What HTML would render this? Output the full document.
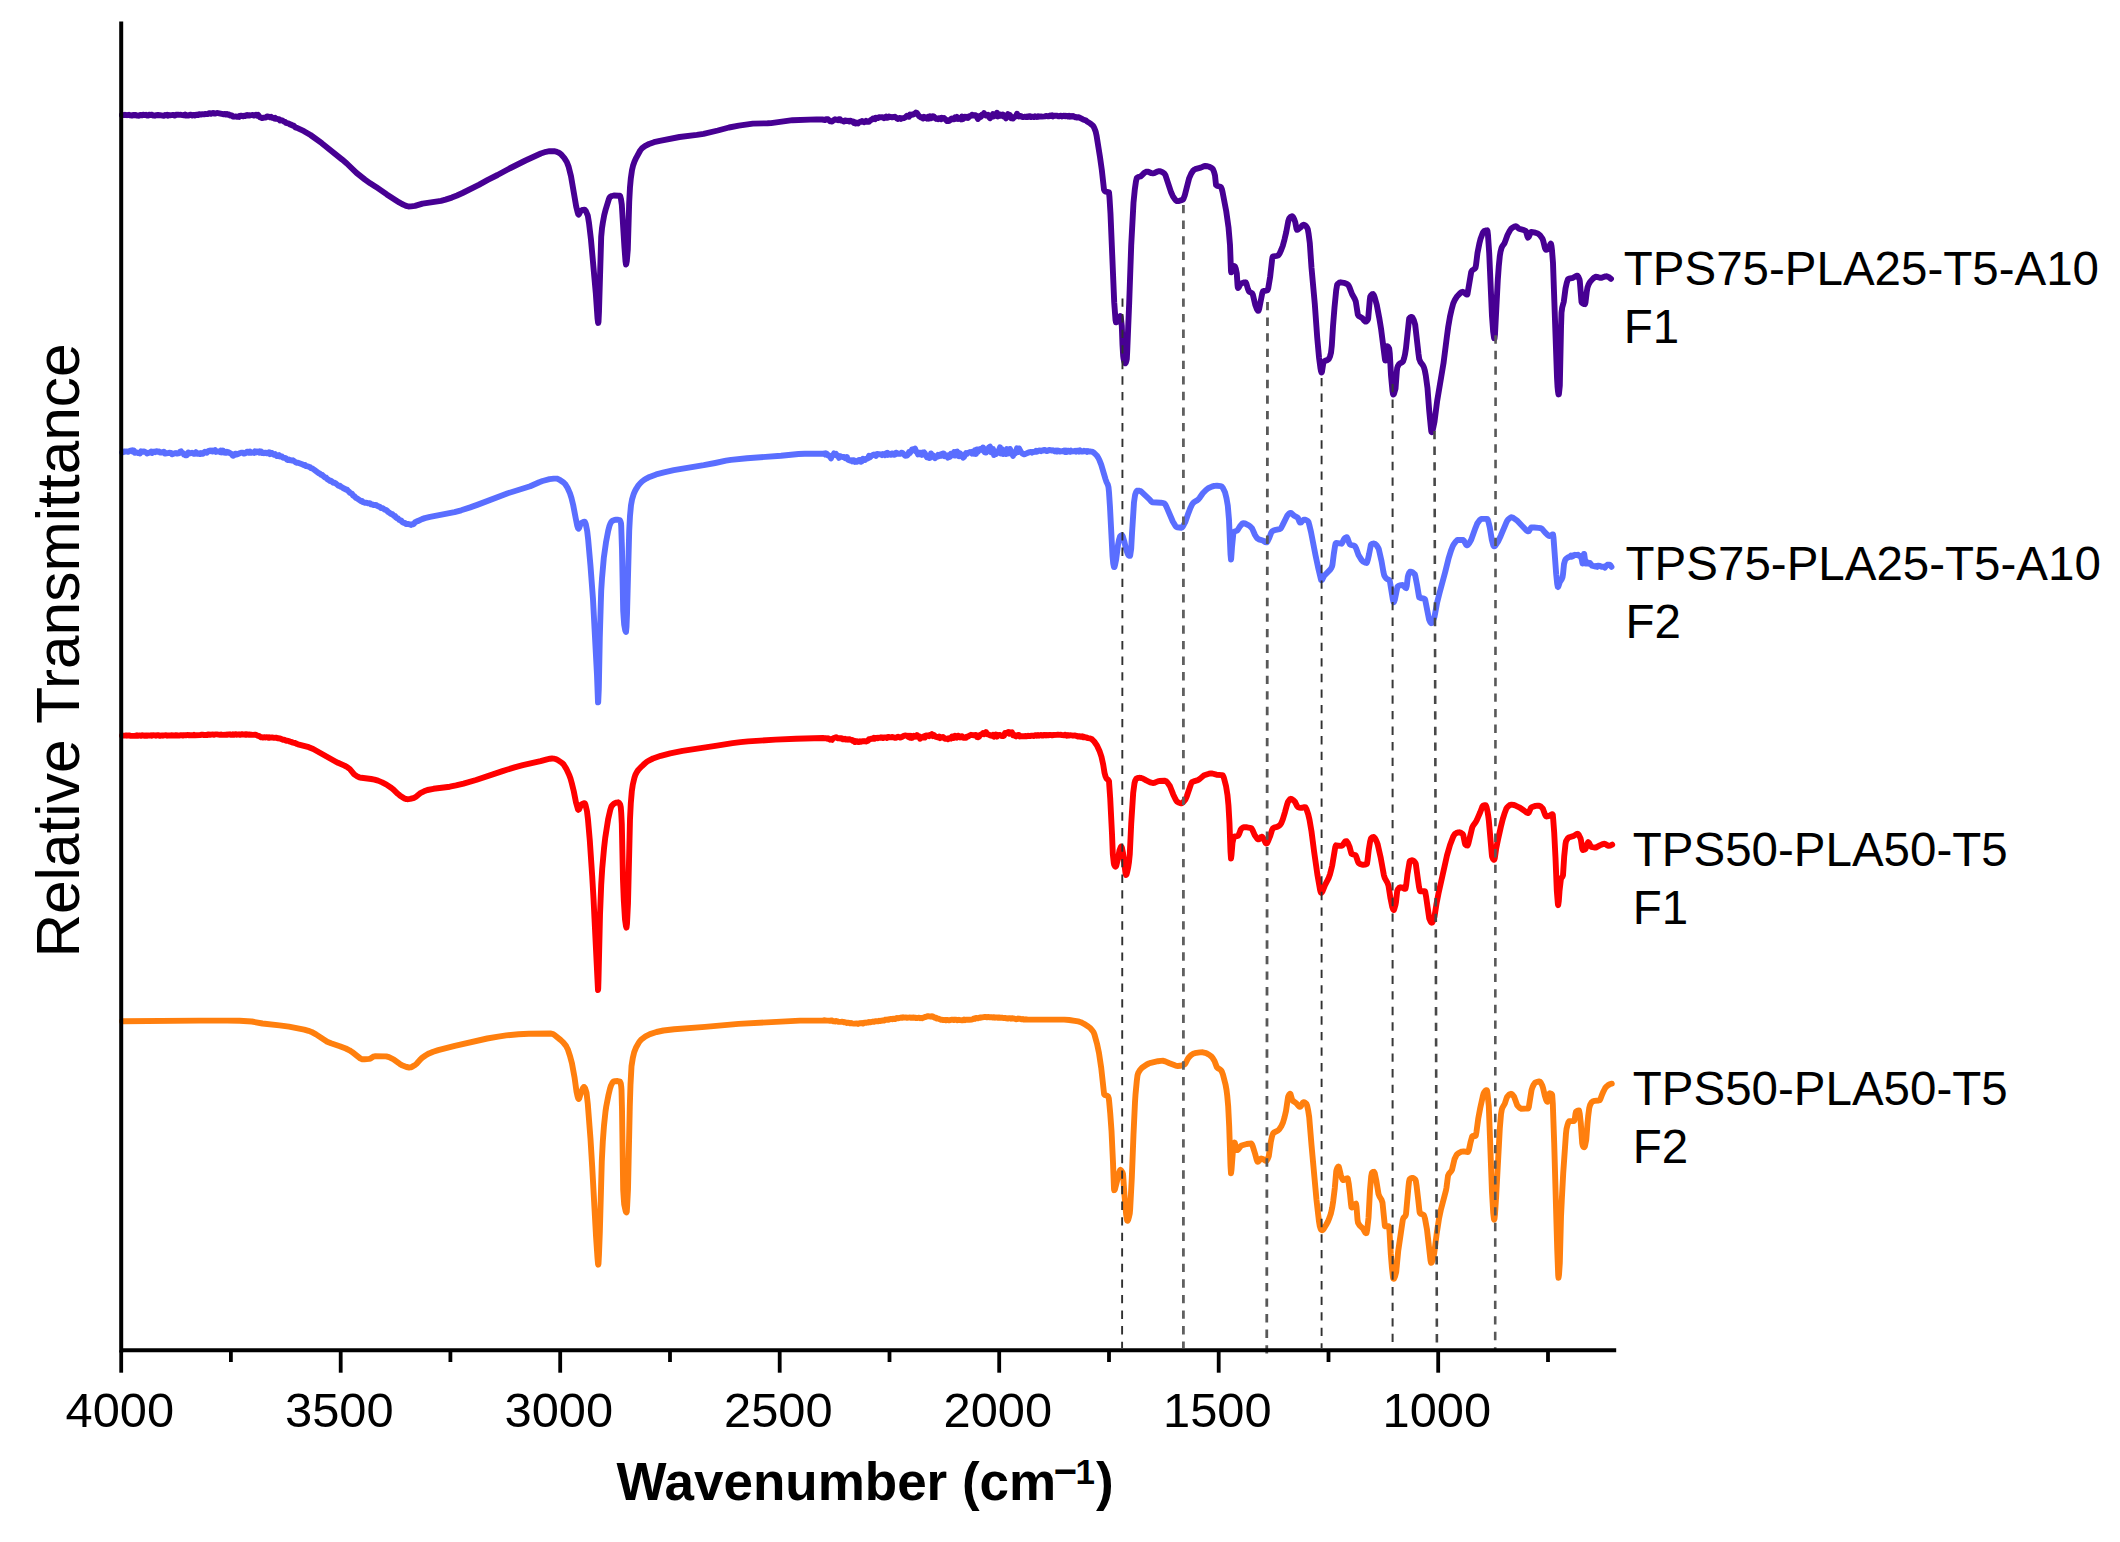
<!DOCTYPE html>
<html lang="en"><head><meta charset="utf-8"><title>FTIR spectra</title>
<style>
html,body{margin:0;padding:0;background:#fff;}
body{width:2120px;height:1542px;overflow:hidden;}
svg{display:block;}
text{font-family:"Liberation Sans", sans-serif;fill:#000;}
.tk{font-size:48.8px;text-anchor:middle;}
.lb{font-size:47.5px;}
.ax{stroke:#000;stroke-width:4.0;fill:none;stroke-linecap:butt;}
.cv{fill:none;stroke-width:5.9;stroke-linejoin:round;stroke-linecap:round;}
</style></head><body>
<svg width="2120" height="1542" viewBox="0 0 2120 1542">
<rect width="2120" height="1542" fill="#fff"/>
<path class="cv" stroke="#470093" d="M122.0 115.0 L124.0 115.1 L125.0 114.8 L127.0 115.2 L129.0 114.8 L130.0 115.3 L131.0 115.3 L132.0 115.6 L133.0 114.9 L134.0 115.3 L135.0 115.0 L136.0 115.0 L137.0 115.6 L139.0 115.7 L140.0 115.0 L141.0 115.0 L142.0 115.4 L143.0 114.7 L145.0 115.1 L146.0 114.8 L147.0 115.5 L148.0 115.6 L149.0 114.8 L151.0 115.0 L152.0 114.7 L153.0 115.6 L154.0 115.4 L155.0 115.7 L156.0 115.2 L158.0 115.0 L159.0 115.4 L160.0 115.1 L164.0 115.8 L165.0 114.9 L166.0 115.3 L167.0 114.7 L168.0 115.7 L169.0 115.0 L170.0 115.3 L173.0 114.9 L175.0 115.6 L176.0 114.7 L178.0 114.7 L179.0 114.9 L181.0 114.8 L184.0 115.3 L185.0 114.6 L186.0 115.6 L187.0 115.3 L188.0 115.6 L189.0 115.3 L190.0 114.7 L191.0 114.7 L192.0 115.5 L193.0 115.0 L194.0 115.0 L195.0 115.4 L196.0 114.6 L197.0 114.6 L198.0 115.1 L199.0 114.3 L200.0 114.3 L201.0 114.6 L202.0 114.1 L204.0 114.4 L205.0 114.0 L208.0 114.1 L209.0 113.2 L210.0 113.3 L211.0 113.8 L213.0 112.9 L214.0 113.5 L215.0 113.6 L217.0 113.0 L218.0 113.1 L223.0 114.2 L225.0 114.0 L226.0 114.5 L227.0 113.9 L228.0 114.8 L229.0 114.5 L230.0 115.5 L231.0 115.2 L232.0 115.6 L233.0 116.5 L234.0 116.7 L236.0 116.4 L237.0 116.8 L238.0 116.4 L239.0 116.9 L240.0 115.8 L241.0 115.6 L243.0 116.3 L244.0 115.6 L245.0 116.0 L246.0 115.3 L247.0 115.0 L248.0 115.5 L249.0 115.1 L250.0 115.5 L252.0 115.0 L253.0 115.0 L254.0 115.6 L256.0 114.7 L257.0 115.6 L258.0 114.8 L259.0 116.2 L260.0 117.3 L261.0 117.4 L262.0 118.1 L264.0 117.6 L265.0 117.6 L266.0 117.3 L267.0 116.4 L268.0 116.7 L269.0 116.6 L270.0 117.3 L271.0 116.8 L272.0 117.7 L273.0 117.7 L274.0 118.4 L275.0 117.8 L276.0 118.9 L277.0 118.7 L278.0 119.3 L279.0 119.1 L280.0 120.5 L281.0 120.1 L282.0 120.3 L284.0 121.6 L285.0 121.9 L286.0 122.9 L289.0 123.7 L290.0 124.6 L291.0 124.4 L292.0 125.3 L293.0 125.5 L294.0 126.0 L295.2 127.3 L296.0 127.7 L297.0 127.9 L304.0 131.2 L310.5 135.0 L321.8 143.2 L342.2 159.6 L346.8 163.5 L356.5 172.9 L365.0 179.6 L370.2 183.3 L376.0 186.9 L386.8 194.4 L399.2 202.4 L402.0 204.0 L405.5 205.6 L407.2 206.2 L408.5 206.5 L411.2 206.4 L415.0 205.9 L422.5 203.6 L441.0 200.8 L445.5 199.6 L451.8 197.6 L457.0 195.5 L462.5 193.0 L478.8 184.8 L487.8 179.8 L497.5 175.0 L509.5 168.5 L525.5 160.5 L540.8 153.5 L546.0 151.8 L549.5 151.2 L554.2 151.2 L556.0 151.6 L558.2 152.4 L559.5 153.1 L561.0 154.3 L564.2 157.9 L566.8 162.0 L568.5 166.3 L571.0 176.2 L576.2 206.5 L577.5 211.9 L578.2 214.2 L578.5 214.6 L579.0 214.3 L580.5 211.3 L581.0 210.7 L583.0 209.8 L584.5 209.6 L585.2 210.2 L586.0 211.3 L587.8 215.6 L589.0 223.0 L591.0 239.9 L595.8 293.2 L597.5 318.1 L598.0 322.2 L598.2 323.0 L598.5 321.8 L599.0 311.0 L601.2 236.7 L602.0 228.3 L602.8 223.0 L604.2 215.3 L605.8 209.1 L608.8 199.4 L609.5 197.6 L610.0 196.9 L611.8 196.0 L613.8 195.5 L618.8 195.7 L620.0 195.8 L620.2 196.1 L621.0 199.3 L621.8 204.7 L624.5 248.0 L625.5 261.3 L626.0 264.5 L626.2 264.1 L626.8 261.2 L627.8 249.5 L629.2 202.2 L630.0 187.2 L630.8 178.5 L632.0 170.1 L633.0 165.8 L634.5 161.5 L636.2 157.8 L640.2 150.5 L641.8 148.5 L643.0 147.4 L645.8 145.6 L649.0 144.0 L654.0 142.2 L659.8 140.8 L679.5 137.0 L696.8 134.9 L703.5 133.8 L717.8 130.5 L729.0 127.5 L738.8 125.6 L752.8 123.6 L767.5 123.3 L771.0 123.1 L792.5 120.2 L816.5 119.4 L822.2 119.5 L825.0 120.0 L826.0 119.3 L827.0 119.4 L828.0 119.2 L830.0 121.3 L831.0 121.1 L832.0 121.6 L833.8 120.0 L835.0 119.3 L838.0 120.2 L839.0 119.3 L840.0 119.2 L841.0 120.6 L842.0 120.6 L844.0 121.5 L845.0 120.4 L847.0 121.1 L848.0 120.7 L849.0 121.5 L850.0 120.6 L851.0 120.8 L852.0 121.5 L853.0 121.5 L854.0 123.0 L855.0 122.3 L856.0 123.5 L857.0 122.7 L858.0 123.4 L859.0 122.3 L860.0 121.8 L861.0 121.9 L862.0 121.1 L863.0 121.5 L864.0 122.2 L865.0 121.8 L866.0 120.9 L867.0 121.7 L869.0 121.7 L870.0 120.6 L871.0 119.9 L872.0 119.6 L873.0 118.5 L874.0 118.5 L875.0 119.2 L876.0 117.7 L877.0 118.2 L878.0 118.0 L879.0 117.1 L880.0 117.4 L882.0 117.2 L883.0 117.4 L884.0 118.2 L886.0 116.7 L887.0 117.8 L888.0 117.6 L889.0 116.6 L890.0 117.0 L891.0 116.9 L892.0 117.4 L893.0 117.0 L894.0 117.1 L895.0 116.7 L896.0 117.5 L897.0 118.6 L898.0 119.0 L899.0 118.2 L900.0 118.0 L901.0 118.9 L902.0 118.2 L904.0 118.0 L905.0 117.6 L907.0 115.8 L907.8 116.0 L909.0 116.7 L910.0 114.5 L911.0 115.2 L912.0 114.4 L913.0 114.6 L915.0 113.6 L916.0 112.5 L917.0 113.1 L919.0 116.1 L920.0 116.7 L921.0 117.6 L922.0 117.2 L923.0 118.4 L924.0 116.8 L925.0 118.1 L926.0 117.7 L927.0 118.6 L928.0 116.8 L929.0 118.7 L930.0 116.2 L931.0 118.2 L932.0 117.8 L933.0 116.2 L934.0 116.7 L935.0 118.0 L936.0 118.9 L937.0 118.4 L938.0 119.2 L939.0 118.2 L940.0 118.1 L941.0 119.2 L942.0 117.8 L943.0 118.4 L944.0 117.9 L946.0 120.1 L947.0 121.0 L948.0 120.3 L949.0 120.9 L950.0 120.3 L951.0 118.9 L952.0 118.4 L953.0 119.2 L954.0 119.2 L955.0 117.4 L956.0 118.5 L957.0 116.9 L958.0 118.9 L959.0 118.6 L960.0 118.0 L961.0 119.3 L962.0 116.6 L963.0 119.1 L964.0 116.9 L965.0 116.8 L966.0 117.7 L967.0 116.9 L968.0 117.9 L970.0 115.9 L971.0 115.8 L972.0 114.8 L972.8 114.9 L974.0 115.6 L975.0 115.1 L976.0 115.5 L978.0 119.0 L979.0 117.0 L980.0 115.9 L981.0 116.8 L982.0 114.7 L983.0 114.5 L984.0 113.2 L985.0 114.6 L986.0 115.5 L987.0 115.7 L988.0 114.8 L989.0 117.0 L990.0 118.2 L991.0 117.0 L992.0 116.9 L993.0 114.0 L994.0 116.4 L995.0 114.2 L996.0 115.2 L997.0 112.7 L998.0 116.5 L999.0 114.4 L1000.0 114.4 L1001.0 115.8 L1001.5 115.9 L1002.0 115.8 L1003.0 114.5 L1004.0 116.8 L1005.0 116.8 L1006.0 118.3 L1007.0 115.6 L1008.0 114.1 L1009.0 116.0 L1010.0 115.1 L1011.0 118.2 L1012.0 118.0 L1012.5 118.4 L1013.0 118.6 L1014.0 117.2 L1015.2 116.5 L1016.0 116.3 L1017.0 113.7 L1018.0 116.0 L1018.2 116.2 L1019.0 116.5 L1019.8 116.0 L1020.5 115.9 L1021.0 116.1 L1021.8 116.8 L1023.0 117.0 L1024.0 117.0 L1025.0 116.7 L1026.0 117.1 L1027.0 116.5 L1028.0 117.0 L1029.0 116.2 L1030.0 116.3 L1031.0 117.1 L1032.0 116.6 L1034.0 117.0 L1035.0 116.3 L1037.0 117.0 L1038.0 116.2 L1039.0 116.7 L1041.0 116.4 L1042.0 116.6 L1045.0 116.4 L1046.0 115.9 L1048.0 116.3 L1049.0 116.2 L1050.0 115.6 L1051.0 116.1 L1052.0 115.4 L1053.0 116.4 L1054.0 115.6 L1057.0 115.7 L1058.0 116.2 L1059.0 116.3 L1060.0 115.8 L1061.0 115.6 L1062.0 116.4 L1063.0 115.8 L1064.0 115.6 L1065.0 116.2 L1066.0 115.8 L1067.0 116.0 L1068.0 116.5 L1069.0 115.7 L1070.0 116.6 L1071.0 115.9 L1072.0 116.6 L1073.0 116.0 L1074.0 116.4 L1075.0 117.2 L1076.0 116.9 L1077.0 117.6 L1078.0 117.1 L1078.2 117.1 L1079.0 117.3 L1083.0 119.4 L1086.0 120.5 L1087.0 121.5 L1090.0 123.2 L1093.0 125.8 L1093.8 126.9 L1094.5 128.4 L1095.8 132.1 L1096.5 135.3 L1100.0 157.1 L1101.8 169.9 L1104.0 189.5 L1104.5 190.7 L1105.5 191.6 L1108.5 192.1 L1109.0 192.4 L1109.5 197.6 L1110.5 213.9 L1113.8 292.6 L1114.2 302.2 L1115.5 319.8 L1116.0 322.3 L1117.0 322.0 L1118.2 321.0 L1120.0 316.2 L1120.2 316.0 L1120.5 316.2 L1120.8 317.2 L1121.8 326.1 L1122.5 345.0 L1123.2 356.2 L1123.5 358.4 L1124.0 360.7 L1124.5 362.3 L1125.0 363.2 L1125.2 363.3 L1125.8 362.7 L1126.5 360.4 L1126.8 359.0 L1127.2 351.7 L1129.2 302.7 L1131.2 245.6 L1133.5 202.7 L1134.8 189.5 L1136.0 181.2 L1136.8 177.9 L1138.0 177.1 L1140.2 176.5 L1141.2 176.0 L1144.0 173.1 L1145.8 172.0 L1146.8 171.6 L1148.2 171.7 L1151.5 173.2 L1152.8 173.4 L1154.2 173.1 L1157.5 171.5 L1158.8 171.2 L1160.2 171.2 L1162.0 171.9 L1164.5 173.7 L1165.5 175.3 L1171.2 192.6 L1172.8 196.1 L1174.8 199.1 L1176.0 200.5 L1177.0 201.1 L1179.0 201.0 L1182.2 199.9 L1183.0 199.5 L1183.5 198.8 L1184.8 195.2 L1189.2 178.1 L1191.2 173.6 L1193.0 170.8 L1194.0 169.9 L1195.2 169.2 L1200.8 167.6 L1204.0 166.2 L1205.2 166.0 L1207.5 166.2 L1209.2 166.8 L1211.2 167.7 L1212.2 168.4 L1213.0 169.4 L1214.0 171.8 L1215.0 175.5 L1216.0 185.0 L1217.2 185.9 L1219.8 186.5 L1221.0 187.3 L1221.8 189.0 L1222.5 191.8 L1226.2 211.0 L1228.5 227.3 L1230.0 244.9 L1230.8 265.8 L1231.0 270.9 L1231.2 272.4 L1232.0 271.4 L1233.8 266.7 L1234.2 266.0 L1234.8 266.2 L1235.8 268.6 L1236.8 273.5 L1237.5 284.9 L1237.8 287.5 L1238.0 288.0 L1238.8 287.3 L1240.2 284.4 L1241.0 283.5 L1243.8 282.5 L1245.2 282.3 L1245.8 282.4 L1246.5 284.0 L1248.0 289.2 L1248.8 291.1 L1249.5 291.8 L1251.8 293.0 L1252.2 293.4 L1252.8 294.4 L1255.2 304.7 L1257.0 309.4 L1258.0 310.9 L1258.5 310.9 L1259.2 308.8 L1262.2 293.5 L1262.8 291.7 L1263.0 291.3 L1263.8 291.0 L1266.5 290.6 L1267.5 290.2 L1268.2 288.4 L1270.2 276.4 L1272.0 260.3 L1272.5 257.3 L1272.8 256.6 L1273.2 256.4 L1277.0 255.8 L1278.2 255.4 L1279.5 253.7 L1281.2 250.0 L1282.8 245.8 L1284.5 239.4 L1286.2 232.2 L1288.2 221.5 L1288.8 219.6 L1289.2 218.5 L1290.5 217.0 L1291.5 216.3 L1292.2 216.2 L1293.0 216.9 L1294.0 218.8 L1295.2 222.0 L1296.5 228.6 L1297.0 229.8 L1297.8 229.6 L1298.5 229.1 L1300.8 227.2 L1302.5 225.3 L1303.5 224.7 L1304.2 224.8 L1305.2 225.3 L1306.2 226.3 L1307.2 227.8 L1307.8 229.3 L1308.5 233.2 L1309.8 243.1 L1311.5 267.8 L1314.8 304.0 L1317.2 337.4 L1319.0 357.3 L1320.5 368.5 L1321.0 371.1 L1321.5 372.5 L1321.8 372.4 L1322.0 371.6 L1323.2 363.7 L1323.8 361.8 L1325.0 360.9 L1327.8 359.9 L1328.8 359.0 L1330.0 356.4 L1331.0 352.8 L1331.8 345.7 L1333.0 326.4 L1334.5 307.4 L1336.2 290.3 L1336.8 286.7 L1337.2 284.7 L1338.2 283.5 L1339.2 282.7 L1340.8 282.3 L1343.8 282.8 L1347.0 284.1 L1348.0 284.7 L1348.5 285.4 L1349.5 287.4 L1352.0 294.0 L1354.8 299.0 L1355.8 301.6 L1357.8 314.5 L1358.2 315.3 L1359.2 316.3 L1362.5 318.3 L1364.5 320.8 L1365.5 321.6 L1366.2 321.5 L1367.0 320.8 L1368.0 319.3 L1368.2 318.2 L1369.8 299.8 L1370.2 296.8 L1371.2 295.1 L1372.2 294.2 L1373.0 294.0 L1373.8 295.0 L1374.8 297.8 L1376.8 305.0 L1379.2 317.6 L1381.0 328.4 L1384.8 358.2 L1385.2 360.6 L1385.5 360.6 L1385.8 359.0 L1386.5 349.5 L1387.0 346.1 L1388.0 346.6 L1389.2 348.5 L1389.8 353.6 L1391.0 375.2 L1392.5 391.1 L1393.0 394.0 L1393.2 394.5 L1393.8 394.2 L1394.2 393.2 L1395.5 388.7 L1396.8 371.5 L1397.2 368.0 L1398.0 365.9 L1399.0 364.3 L1400.0 363.4 L1402.0 362.4 L1403.0 361.4 L1404.0 358.6 L1405.0 354.4 L1406.0 348.0 L1408.8 321.5 L1409.2 318.5 L1410.0 317.6 L1411.0 317.0 L1411.8 316.9 L1412.5 317.5 L1413.8 320.0 L1415.2 324.9 L1418.5 353.9 L1419.2 359.0 L1420.5 362.2 L1422.8 365.1 L1423.8 367.0 L1424.8 370.4 L1425.8 375.6 L1427.5 388.2 L1429.2 410.6 L1430.8 427.0 L1431.2 430.8 L1431.5 431.8 L1431.8 432.1 L1432.2 431.5 L1432.8 430.0 L1434.5 421.7 L1437.2 400.7 L1443.5 363.3 L1446.8 337.4 L1448.2 327.0 L1450.0 316.5 L1451.8 308.7 L1453.2 303.5 L1455.0 299.6 L1457.2 296.2 L1460.2 293.1 L1461.5 292.1 L1462.8 291.8 L1463.8 292.3 L1466.5 294.6 L1467.2 294.6 L1467.5 294.0 L1471.2 272.1 L1471.5 271.4 L1472.2 270.4 L1474.5 268.9 L1475.5 267.6 L1476.0 265.1 L1477.5 252.8 L1479.5 242.9 L1480.5 239.1 L1482.0 234.9 L1483.0 232.5 L1484.0 231.1 L1485.8 230.5 L1487.2 230.3 L1487.5 231.1 L1488.0 235.2 L1489.2 252.9 L1492.0 316.3 L1493.2 331.9 L1493.8 336.2 L1494.2 338.4 L1494.5 338.4 L1495.0 334.1 L1497.8 279.8 L1498.8 266.0 L1499.8 256.1 L1500.5 251.7 L1501.5 247.9 L1502.2 246.4 L1504.5 243.2 L1507.5 235.0 L1509.8 230.6 L1511.0 228.9 L1513.0 227.3 L1514.8 226.4 L1516.0 226.3 L1516.8 226.8 L1519.0 228.7 L1520.5 229.2 L1524.0 230.1 L1525.8 230.9 L1526.2 232.1 L1527.5 236.8 L1528.0 237.6 L1528.8 236.9 L1530.5 232.8 L1531.2 232.0 L1534.2 232.4 L1537.8 233.5 L1540.0 235.3 L1542.5 238.7 L1543.2 240.8 L1545.0 248.2 L1545.8 249.8 L1547.2 249.6 L1548.8 248.6 L1550.2 244.4 L1550.8 243.7 L1551.0 243.9 L1551.5 246.2 L1552.0 250.3 L1553.0 263.1 L1557.0 377.4 L1557.5 386.4 L1558.0 391.5 L1558.5 394.4 L1558.8 394.3 L1559.0 393.3 L1559.8 385.6 L1561.0 328.1 L1561.5 312.6 L1562.2 307.5 L1563.8 301.7 L1565.5 288.5 L1566.8 282.7 L1567.8 279.6 L1568.2 279.0 L1569.0 278.7 L1573.0 277.8 L1576.5 275.8 L1577.5 275.8 L1578.2 276.6 L1579.5 279.4 L1579.8 281.1 L1581.5 301.9 L1581.8 302.6 L1582.8 303.4 L1583.8 304.0 L1585.0 304.2 L1585.5 302.5 L1586.8 291.4 L1587.5 287.4 L1588.5 284.7 L1589.5 282.8 L1590.5 281.4 L1593.0 278.6 L1594.5 277.4 L1595.8 276.8 L1597.0 276.9 L1599.8 277.8 L1601.0 277.9 L1602.2 277.6 L1605.0 276.5 L1606.2 276.3 L1607.2 276.4 L1608.5 276.9 L1611.0 278.8"/>
<path class="cv" stroke="#5a6eff" d="M122.0 452.5 L123.0 452.2 L124.0 451.4 L125.0 451.7 L127.0 451.4 L128.0 451.9 L130.0 450.8 L131.0 450.9 L132.0 450.4 L133.0 451.7 L134.0 450.6 L135.0 452.8 L136.0 452.3 L138.0 453.1 L139.0 453.0 L140.0 453.4 L141.0 451.4 L142.0 451.9 L144.0 451.5 L146.0 452.4 L147.0 453.4 L149.0 452.7 L150.0 452.6 L151.0 451.7 L152.0 452.9 L153.0 451.6 L154.0 451.7 L155.0 452.2 L156.0 451.4 L157.0 451.2 L158.0 451.9 L159.0 451.5 L160.0 452.6 L162.0 452.5 L163.0 451.9 L164.0 451.8 L165.0 453.6 L169.0 452.8 L171.0 453.0 L172.0 454.3 L173.0 454.0 L174.0 453.4 L175.0 453.3 L176.0 453.0 L177.0 453.6 L178.0 453.3 L179.0 453.2 L180.0 451.9 L181.0 451.3 L182.0 452.8 L183.0 453.1 L184.0 454.6 L185.0 454.7 L185.5 455.2 L186.0 455.4 L187.0 455.1 L188.0 452.6 L188.2 452.5 L189.0 452.6 L190.0 453.3 L192.0 452.8 L193.0 453.1 L194.0 453.9 L195.0 453.8 L196.0 452.2 L197.0 453.8 L199.0 453.3 L200.0 454.0 L201.0 453.1 L202.0 453.7 L203.0 453.7 L205.0 451.7 L206.0 452.4 L207.0 452.8 L208.0 451.2 L209.0 450.8 L210.0 450.5 L211.0 451.3 L212.0 450.6 L213.0 451.5 L215.0 450.0 L216.0 451.9 L217.0 451.3 L218.0 451.5 L219.0 451.4 L220.0 452.1 L221.0 450.6 L222.0 452.3 L223.0 450.6 L224.0 452.5 L226.0 452.9 L227.0 451.8 L228.2 452.1 L230.0 453.2 L231.0 453.5 L232.0 454.9 L233.0 455.8 L234.0 455.3 L235.0 453.9 L236.0 453.6 L237.0 454.5 L238.0 453.9 L240.2 453.0 L241.0 452.8 L243.0 452.6 L244.0 453.6 L245.0 453.4 L246.0 452.9 L247.0 451.8 L248.0 451.8 L249.0 452.7 L250.0 451.7 L251.0 452.7 L252.0 452.7 L253.0 452.2 L254.0 452.8 L255.0 451.3 L256.0 452.4 L257.0 451.5 L258.0 452.0 L259.0 452.7 L260.0 451.4 L260.2 451.5 L261.0 451.5 L262.0 453.0 L263.0 452.4 L264.0 453.2 L266.0 452.6 L267.0 453.4 L268.0 453.4 L269.0 452.3 L270.0 454.2 L271.0 452.8 L272.0 453.0 L273.0 454.3 L274.0 454.7 L275.0 454.0 L276.0 455.3 L277.0 456.1 L279.0 455.0 L280.0 456.6 L282.0 456.5 L283.0 457.8 L285.0 457.9 L286.0 458.4 L287.0 459.6 L288.0 460.1 L289.0 459.5 L290.0 460.3 L291.0 460.1 L292.0 460.6 L293.0 460.3 L295.8 462.3 L297.0 462.9 L298.0 462.8 L302.8 464.6 L304.0 465.3 L305.0 464.9 L306.0 466.1 L308.0 466.4 L309.0 466.9 L310.0 467.1 L311.0 468.1 L312.0 468.3 L314.0 469.6 L319.0 473.3 L320.0 473.7 L321.0 474.8 L322.0 474.7 L323.0 475.8 L325.0 477.5 L326.0 477.5 L327.0 478.9 L329.0 480.1 L330.0 481.0 L331.0 480.7 L332.0 481.5 L333.0 482.8 L334.0 482.6 L335.0 483.0 L336.0 483.6 L338.0 485.4 L339.0 486.0 L340.0 485.8 L341.0 486.8 L342.0 487.2 L343.0 488.0 L346.0 489.5 L347.0 489.7 L348.0 490.9 L349.0 491.6 L350.0 492.9 L352.0 493.8 L353.0 495.5 L354.0 495.9 L356.0 498.0 L357.0 498.3 L361.0 501.2 L362.0 500.9 L363.0 502.1 L364.0 502.3 L365.0 502.8 L366.0 502.7 L367.0 502.9 L368.0 503.4 L369.0 503.1 L370.0 503.4 L371.0 504.4 L372.0 504.4 L374.0 505.1 L375.0 504.9 L376.0 504.9 L377.0 505.7 L380.0 507.0 L381.0 508.1 L382.0 507.9 L383.0 508.4 L385.0 509.8 L386.0 509.9 L387.0 510.6 L388.0 511.9 L389.0 512.4 L391.0 514.0 L392.0 513.9 L393.0 514.7 L394.0 516.0 L395.0 516.0 L396.0 517.5 L397.0 518.1 L398.0 518.4 L399.0 519.8 L401.0 520.3 L402.0 521.7 L403.5 522.7 L404.0 523.0 L405.0 522.9 L406.0 524.0 L408.0 524.0 L410.0 524.3 L411.0 524.9 L412.0 524.1 L413.0 524.3 L413.8 523.9 L415.0 522.4 L417.0 521.2 L418.0 521.0 L422.0 519.1 L424.8 518.1 L430.0 516.8 L454.5 512.1 L461.2 510.3 L470.2 507.4 L477.2 504.9 L507.8 493.3 L530.2 486.3 L539.2 482.2 L542.5 481.0 L549.5 479.2 L553.8 478.6 L556.8 478.6 L559.5 479.7 L563.2 482.2 L565.2 484.1 L567.5 487.8 L570.0 493.4 L571.5 498.1 L573.2 505.1 L575.8 518.7 L577.2 525.6 L578.0 528.1 L578.5 528.7 L579.0 528.2 L580.5 524.3 L581.2 523.1 L583.2 522.0 L584.8 521.8 L585.2 522.6 L585.8 524.1 L587.2 531.1 L588.2 539.9 L590.5 566.0 L593.0 599.3 L597.0 675.1 L598.0 702.4 L598.2 702.3 L598.8 688.9 L599.8 637.2 L600.8 602.9 L601.2 590.7 L602.0 578.4 L603.8 557.9 L606.0 542.3 L608.2 530.8 L609.5 525.8 L610.5 523.2 L611.5 521.6 L612.5 520.7 L614.5 519.9 L616.0 519.7 L618.2 519.8 L619.8 520.1 L620.5 521.5 L621.0 523.3 L621.2 525.8 L622.0 549.8 L623.2 610.7 L623.8 619.6 L624.2 624.8 L625.2 630.3 L625.8 631.7 L626.0 631.9 L626.5 626.7 L627.0 614.3 L629.2 531.0 L630.0 515.9 L631.0 505.3 L632.0 499.7 L633.8 493.7 L635.0 491.0 L636.5 488.3 L638.2 485.7 L640.0 483.5 L642.0 481.5 L644.0 480.0 L646.8 478.3 L649.5 476.9 L656.2 474.4 L664.0 472.4 L673.8 470.2 L682.8 468.6 L703.8 465.2 L715.2 463.0 L726.0 460.7 L731.0 459.9 L747.0 458.2 L781.0 455.7 L798.5 454.0 L804.8 453.8 L822.2 453.7 L823.0 453.9 L824.0 453.5 L825.0 454.5 L826.0 453.3 L827.0 453.8 L828.0 455.4 L828.8 455.7 L830.0 456.6 L831.0 458.4 L832.0 455.5 L833.0 455.6 L834.0 453.4 L835.0 454.3 L836.0 453.8 L837.0 455.7 L838.0 455.6 L839.0 457.9 L840.0 456.0 L841.0 456.7 L843.0 457.1 L844.0 457.0 L845.0 458.2 L846.0 458.5 L847.0 457.2 L848.0 459.8 L850.0 460.6 L851.0 460.2 L852.0 461.3 L853.0 460.2 L854.0 460.1 L855.0 462.0 L856.0 461.4 L857.0 461.7 L858.0 460.4 L859.0 460.0 L860.0 460.0 L861.0 461.7 L862.0 461.1 L863.0 458.7 L864.0 459.9 L865.0 460.0 L866.0 458.9 L867.0 458.7 L868.0 458.3 L869.0 455.8 L870.0 457.3 L871.0 456.2 L873.0 454.8 L874.0 454.5 L875.0 454.8 L876.0 455.8 L877.0 454.0 L881.0 454.4 L882.0 455.1 L883.0 454.0 L885.0 455.1 L886.0 453.3 L887.0 452.8 L888.0 454.9 L889.0 453.6 L890.0 454.3 L891.0 454.8 L892.0 453.5 L893.0 453.7 L894.0 454.8 L895.0 454.6 L896.0 452.7 L897.0 453.0 L898.0 453.9 L900.0 453.9 L901.5 452.7 L902.0 452.6 L903.0 453.3 L905.0 455.7 L907.0 455.5 L908.0 454.6 L909.0 452.0 L910.0 452.8 L911.0 451.5 L912.0 449.6 L913.0 449.2 L914.0 449.3 L915.0 448.5 L916.0 451.5 L917.0 452.0 L918.0 454.4 L919.0 452.6 L920.0 454.2 L921.0 452.9 L922.0 454.8 L923.0 452.5 L924.0 452.3 L925.0 453.6 L927.0 457.2 L928.0 456.4 L929.0 458.1 L930.0 457.9 L931.0 453.4 L932.0 456.4 L933.0 455.4 L934.0 457.1 L935.0 458.1 L936.0 456.2 L937.0 456.7 L938.0 454.9 L939.0 456.2 L940.0 455.9 L941.0 454.4 L942.0 455.6 L943.0 453.4 L944.0 453.6 L945.0 456.4 L946.0 456.4 L947.0 456.0 L948.0 457.6 L949.0 455.1 L950.0 456.8 L951.0 453.7 L952.0 454.8 L954.0 452.2 L955.0 455.6 L956.0 451.8 L957.0 451.6 L958.0 455.9 L959.0 456.2 L960.0 453.3 L962.0 455.9 L963.0 457.6 L964.0 457.0 L966.0 453.0 L967.0 453.7 L968.0 452.8 L969.0 452.6 L970.0 452.0 L970.5 452.2 L971.0 452.2 L972.0 453.6 L973.0 451.6 L974.0 453.6 L975.0 450.2 L976.0 453.9 L977.0 449.5 L978.0 451.7 L979.0 449.7 L981.0 448.8 L982.0 449.8 L983.0 447.5 L984.0 451.3 L985.0 452.4 L986.0 452.6 L987.0 449.2 L988.0 450.0 L989.0 447.4 L990.0 446.7 L991.0 452.3 L992.0 448.9 L993.0 448.9 L994.0 455.0 L995.0 452.5 L996.0 454.0 L997.0 451.8 L998.5 450.7 L999.0 450.5 L1000.0 447.3 L1001.0 453.6 L1002.0 449.2 L1003.0 454.0 L1004.0 452.5 L1004.8 453.3 L1006.0 454.0 L1007.0 449.1 L1009.0 453.4 L1010.0 449.0 L1012.0 452.9 L1013.0 455.9 L1014.0 452.7 L1015.0 453.6 L1016.0 452.3 L1017.0 448.3 L1018.0 452.1 L1019.0 448.4 L1021.0 452.2 L1022.5 453.6 L1024.0 454.3 L1025.5 453.9 L1028.0 452.8 L1029.0 452.1 L1030.0 452.1 L1031.0 451.9 L1032.0 452.7 L1033.0 452.0 L1035.0 451.8 L1036.0 450.8 L1037.0 451.7 L1039.0 450.5 L1040.0 450.7 L1041.0 451.2 L1042.0 450.4 L1043.0 450.5 L1044.0 450.0 L1045.0 450.0 L1046.0 450.9 L1047.0 451.1 L1048.0 450.7 L1049.0 450.0 L1050.0 450.4 L1051.0 450.1 L1052.0 450.6 L1053.0 450.2 L1055.0 451.4 L1056.0 450.5 L1057.0 451.5 L1058.0 450.5 L1059.0 450.8 L1060.0 451.6 L1061.0 451.2 L1063.0 451.4 L1064.0 450.6 L1065.0 451.8 L1066.0 450.6 L1067.0 451.9 L1068.0 450.7 L1069.0 451.0 L1070.0 451.8 L1071.0 450.7 L1072.0 451.5 L1075.0 450.8 L1076.0 451.6 L1077.0 450.7 L1078.0 450.8 L1079.0 451.6 L1080.0 450.5 L1081.0 451.5 L1082.0 451.6 L1083.0 451.6 L1084.0 450.7 L1085.0 451.3 L1086.0 451.0 L1087.0 451.9 L1088.0 451.0 L1089.0 451.6 L1090.0 451.4 L1090.8 451.6 L1092.0 451.6 L1094.0 452.8 L1096.8 455.5 L1098.0 457.3 L1099.5 460.3 L1101.2 464.6 L1105.5 479.1 L1106.5 482.0 L1107.8 484.6 L1108.5 487.2 L1109.0 492.2 L1110.0 507.3 L1112.5 555.9 L1113.2 563.3 L1114.0 567.1 L1114.2 567.1 L1114.5 566.8 L1115.0 565.2 L1116.2 559.1 L1118.0 545.0 L1119.0 539.9 L1120.0 536.6 L1121.0 535.5 L1122.0 535.2 L1122.5 535.8 L1123.0 537.0 L1124.2 541.0 L1126.0 549.0 L1127.8 554.0 L1128.5 555.2 L1129.2 555.8 L1130.0 555.9 L1130.2 555.4 L1131.2 548.5 L1132.0 533.5 L1134.0 502.3 L1134.8 496.8 L1135.2 494.5 L1136.2 491.9 L1137.0 490.8 L1137.5 490.6 L1139.0 490.7 L1140.2 491.0 L1141.0 491.4 L1149.5 499.3 L1151.2 501.4 L1152.2 502.2 L1160.8 502.7 L1163.5 503.2 L1164.5 503.6 L1165.5 504.9 L1166.5 506.8 L1172.8 521.5 L1175.2 525.6 L1176.2 526.8 L1177.0 527.3 L1181.2 527.7 L1182.0 527.4 L1182.8 526.6 L1185.2 522.2 L1188.5 512.8 L1190.5 507.7 L1191.8 504.9 L1193.0 503.1 L1194.2 502.0 L1197.0 500.4 L1198.2 499.4 L1199.5 498.0 L1202.8 493.3 L1206.0 490.0 L1208.2 488.2 L1211.8 486.6 L1214.2 485.9 L1217.0 485.8 L1220.8 486.1 L1221.8 486.6 L1222.8 487.8 L1225.0 492.3 L1226.5 498.2 L1227.8 505.8 L1229.0 519.7 L1230.5 554.2 L1231.0 559.6 L1231.2 558.3 L1232.0 547.0 L1232.8 538.9 L1233.2 534.4 L1233.8 532.1 L1234.5 531.5 L1236.8 530.8 L1237.5 530.2 L1240.0 526.2 L1242.2 523.7 L1243.2 523.2 L1245.0 523.5 L1248.2 525.1 L1250.0 526.2 L1252.2 528.6 L1255.0 535.0 L1256.5 537.3 L1257.5 538.5 L1258.8 539.3 L1262.8 540.5 L1265.5 542.2 L1266.5 542.4 L1267.0 542.1 L1267.5 541.4 L1269.2 538.0 L1271.2 532.8 L1272.0 531.5 L1273.0 530.8 L1274.5 530.2 L1279.5 529.1 L1280.5 528.6 L1281.2 527.7 L1282.2 525.9 L1287.2 515.7 L1289.2 513.4 L1290.0 512.9 L1290.8 512.9 L1291.8 513.5 L1294.0 515.7 L1296.8 517.1 L1298.0 518.1 L1299.5 521.8 L1300.0 522.6 L1300.5 522.6 L1301.0 522.4 L1303.0 520.2 L1304.0 519.6 L1305.2 519.7 L1306.8 520.4 L1308.0 521.2 L1308.5 522.0 L1309.2 524.5 L1311.0 532.0 L1315.5 555.2 L1318.0 567.0 L1320.8 578.7 L1321.2 580.1 L1321.5 580.3 L1322.2 579.7 L1324.2 575.7 L1330.2 569.6 L1331.2 568.1 L1332.0 566.5 L1332.5 564.5 L1333.8 554.0 L1335.0 546.2 L1335.5 543.8 L1336.0 542.9 L1341.5 543.7 L1342.2 542.9 L1343.8 539.6 L1344.5 538.4 L1345.8 537.5 L1346.8 537.2 L1347.5 538.3 L1349.2 543.1 L1350.0 544.4 L1351.2 545.0 L1354.0 545.7 L1354.8 546.1 L1355.2 546.6 L1356.0 548.1 L1358.5 555.0 L1361.5 559.9 L1363.2 561.7 L1365.2 562.7 L1366.5 563.0 L1367.0 562.4 L1367.8 559.9 L1369.0 554.5 L1370.8 545.2 L1371.0 544.6 L1372.2 543.9 L1373.5 543.5 L1374.5 543.6 L1375.5 544.2 L1376.8 545.6 L1378.2 547.9 L1378.8 549.1 L1381.5 561.0 L1383.5 572.4 L1384.2 575.3 L1385.2 577.2 L1386.2 578.4 L1387.0 579.0 L1389.0 579.9 L1389.5 580.3 L1389.8 580.9 L1392.8 599.3 L1393.5 602.0 L1393.8 602.2 L1394.0 602.0 L1394.8 599.8 L1397.5 586.7 L1398.5 586.0 L1399.8 585.4 L1401.2 585.1 L1402.5 585.0 L1403.5 585.7 L1405.2 587.6 L1406.2 588.1 L1406.8 585.7 L1407.8 576.9 L1408.5 574.4 L1409.2 572.8 L1410.0 571.8 L1411.0 571.7 L1412.5 572.3 L1414.8 574.2 L1415.2 575.4 L1417.2 585.8 L1418.8 595.5 L1419.2 597.3 L1420.5 598.0 L1424.2 598.7 L1425.0 599.2 L1425.2 599.9 L1429.0 619.3 L1430.0 621.7 L1430.8 622.8 L1431.2 623.2 L1431.8 623.1 L1432.5 622.1 L1434.5 616.7 L1437.2 602.3 L1439.5 593.1 L1445.2 571.9 L1448.5 558.7 L1451.0 550.6 L1452.8 546.0 L1453.8 544.3 L1456.0 541.3 L1457.2 540.2 L1458.2 539.9 L1463.2 540.0 L1464.0 540.8 L1466.2 544.9 L1467.0 545.3 L1468.0 544.8 L1469.2 543.2 L1471.2 539.7 L1475.5 527.8 L1477.2 523.6 L1479.8 520.1 L1481.2 518.9 L1487.0 518.9 L1487.2 519.0 L1487.8 519.7 L1488.5 522.1 L1489.8 527.5 L1491.8 539.7 L1493.0 544.3 L1493.5 545.7 L1494.0 546.3 L1494.8 546.1 L1495.5 545.4 L1498.0 541.7 L1500.8 535.7 L1506.0 523.3 L1507.2 520.8 L1508.0 519.7 L1509.5 518.3 L1510.5 517.6 L1511.2 517.3 L1512.2 517.4 L1513.2 517.8 L1516.8 520.3 L1525.8 529.8 L1527.5 531.1 L1528.2 531.3 L1528.8 531.2 L1530.8 528.0 L1531.2 527.5 L1534.2 527.5 L1538.5 527.9 L1541.0 528.2 L1541.8 528.7 L1545.2 532.7 L1547.8 535.2 L1548.8 535.9 L1549.2 536.0 L1550.0 535.9 L1552.0 534.7 L1553.0 534.4 L1553.5 537.7 L1556.2 574.2 L1557.2 584.0 L1557.8 586.8 L1558.0 587.0 L1558.5 586.1 L1559.8 582.0 L1561.8 579.1 L1562.5 577.2 L1563.0 574.2 L1564.0 564.1 L1565.0 560.5 L1565.5 559.5 L1566.5 558.4 L1568.0 557.4 L1570.0 556.7 L1571.0 555.6 L1572.0 556.7 L1573.0 556.2 L1574.0 555.1 L1575.0 554.8 L1577.0 555.1 L1578.0 554.7 L1579.0 555.8 L1580.0 555.6 L1581.0 557.6 L1581.2 557.6 L1581.5 558.1 L1582.5 563.5 L1582.8 562.9 L1583.0 561.3 L1583.8 555.0 L1584.0 553.9 L1584.2 554.0 L1585.5 563.6 L1587.0 563.5 L1588.0 562.7 L1589.0 563.7 L1590.0 563.0 L1592.0 565.6 L1595.0 566.5 L1596.0 566.0 L1597.0 566.8 L1598.0 565.6 L1600.0 565.9 L1601.0 566.6 L1602.0 566.8 L1603.0 566.7 L1604.0 567.0 L1605.0 567.6 L1606.0 565.9 L1607.0 565.4 L1607.5 564.8 L1608.0 564.6 L1609.5 564.6 L1610.2 565.0 L1611.5 566.9"/>
<path class="cv" stroke="#ff0000" d="M122.0 735.6 L124.8 735.6 L126.0 735.4 L127.0 735.7 L129.0 735.4 L130.0 735.7 L135.0 735.9 L137.0 735.3 L138.0 735.8 L139.0 735.4 L141.0 735.8 L142.0 735.3 L143.0 735.4 L144.0 735.7 L146.0 735.5 L147.0 735.8 L148.0 735.4 L150.0 735.6 L151.0 735.3 L152.0 735.7 L153.0 735.2 L155.0 735.4 L156.0 735.7 L158.0 735.2 L160.0 735.8 L162.0 735.4 L163.0 735.7 L166.0 735.2 L167.0 735.7 L168.0 735.4 L170.0 735.5 L171.0 735.3 L174.0 735.5 L175.0 735.3 L176.0 735.6 L177.0 735.2 L178.0 735.6 L179.0 735.6 L181.0 735.1 L183.0 735.5 L184.0 735.1 L186.0 735.3 L188.0 734.9 L189.0 735.3 L190.0 735.4 L191.0 735.1 L193.0 735.3 L194.0 734.8 L195.0 735.3 L200.0 735.1 L201.0 734.8 L202.0 734.9 L203.0 734.6 L204.0 735.1 L206.0 734.9 L207.0 735.0 L208.0 734.5 L211.0 734.7 L213.0 734.4 L214.0 734.8 L215.0 734.4 L217.0 734.4 L220.0 734.8 L221.0 734.5 L222.0 734.9 L226.0 734.6 L227.0 734.8 L228.0 734.4 L229.0 734.5 L230.0 734.3 L231.0 734.8 L232.0 734.7 L233.0 734.3 L234.0 734.8 L235.0 734.3 L236.0 734.3 L237.0 734.7 L239.0 734.3 L240.0 734.8 L242.0 734.2 L243.0 734.5 L244.0 734.4 L245.0 734.7 L246.0 734.3 L247.0 734.7 L248.0 734.4 L249.0 734.8 L250.0 734.5 L251.0 734.8 L253.0 734.9 L255.2 734.6 L256.0 734.8 L258.0 735.8 L259.0 735.9 L261.0 737.3 L262.0 737.1 L263.0 737.6 L264.0 737.2 L265.0 737.5 L267.0 737.2 L268.0 737.7 L269.0 737.3 L270.0 737.7 L272.0 737.4 L274.0 737.9 L276.0 737.7 L278.0 738.3 L280.0 738.5 L283.0 739.8 L284.0 739.6 L286.0 740.7 L287.0 740.7 L289.0 741.1 L290.0 741.7 L291.0 741.9 L293.0 742.6 L295.0 743.0 L296.0 743.7 L297.0 743.8 L298.0 744.3 L308.8 747.2 L313.2 749.0 L335.0 761.2 L338.0 762.8 L344.5 765.6 L347.5 767.3 L349.8 769.0 L354.2 774.4 L357.2 776.4 L359.2 777.3 L361.5 777.8 L371.2 779.0 L374.5 779.6 L378.0 780.6 L382.2 782.4 L386.5 784.6 L391.5 788.0 L393.5 789.6 L397.8 793.8 L399.8 795.4 L404.5 798.4 L406.0 799.0 L407.2 799.2 L410.2 798.9 L414.2 797.8 L416.0 796.7 L420.8 792.8 L424.0 791.3 L427.5 790.0 L433.5 788.8 L449.8 786.7 L456.0 785.4 L463.5 783.6 L476.0 780.0 L502.5 771.1 L514.5 767.4 L522.8 765.1 L540.5 761.1 L547.0 759.3 L550.0 758.7 L552.0 758.5 L553.8 758.6 L555.5 759.0 L557.5 759.9 L562.0 762.9 L563.8 764.7 L566.2 768.6 L569.2 774.9 L570.5 778.5 L571.8 783.2 L573.8 791.4 L576.0 802.5 L578.0 809.3 L578.5 809.8 L579.0 809.4 L581.2 804.6 L583.0 803.6 L584.5 803.2 L585.0 803.7 L585.5 804.9 L587.0 811.3 L588.0 819.7 L589.8 840.5 L592.2 876.1 L593.5 898.3 L598.0 990.1 L598.2 988.7 L598.5 979.5 L600.0 914.9 L601.2 884.9 L602.2 868.8 L604.0 848.7 L605.2 838.0 L608.2 818.8 L610.2 810.2 L611.5 806.2 L612.8 804.7 L614.2 803.5 L616.5 802.6 L618.2 802.3 L619.2 803.0 L620.2 804.6 L620.8 807.4 L621.2 812.6 L621.8 823.9 L623.0 880.2 L623.8 900.1 L625.0 919.3 L626.0 926.3 L626.5 927.6 L627.0 923.7 L628.0 903.0 L630.0 819.4 L630.8 803.3 L631.8 791.4 L632.8 784.6 L634.5 777.4 L635.5 774.6 L636.8 772.1 L638.2 770.0 L641.8 766.3 L644.8 763.5 L647.2 761.5 L649.8 760.1 L653.0 758.5 L660.8 755.8 L670.2 753.3 L682.5 750.8 L717.0 745.7 L732.5 743.1 L740.5 742.1 L748.2 741.4 L775.5 739.6 L796.0 738.8 L823.0 738.0 L825.0 738.3 L826.0 738.2 L827.0 738.7 L828.0 738.2 L830.0 739.7 L831.0 739.0 L832.0 739.8 L833.2 738.2 L836.0 737.2 L838.0 738.3 L839.0 738.2 L840.0 738.5 L841.0 738.2 L842.0 738.4 L843.0 739.4 L845.0 738.8 L846.0 739.5 L847.0 739.1 L848.0 739.7 L849.0 739.1 L851.0 739.9 L852.0 740.0 L853.0 741.1 L854.0 740.8 L855.0 742.0 L856.0 741.3 L857.0 741.2 L858.0 742.1 L859.0 742.0 L860.0 741.2 L861.0 741.8 L863.0 741.1 L864.0 741.4 L865.0 741.2 L866.0 741.5 L868.0 740.7 L869.0 739.2 L870.0 739.3 L871.0 738.6 L872.0 738.9 L873.0 738.9 L874.0 737.9 L875.0 738.7 L876.0 738.0 L877.0 737.8 L878.0 738.2 L879.0 737.7 L880.0 737.8 L881.0 737.3 L882.0 737.5 L883.0 738.0 L884.0 737.5 L886.0 737.4 L887.0 738.0 L888.0 737.0 L889.0 737.0 L890.0 737.4 L891.0 737.4 L892.0 737.0 L894.0 737.3 L895.0 737.9 L896.0 737.8 L897.0 737.1 L898.0 736.8 L900.0 737.6 L902.0 736.9 L903.8 735.9 L905.0 735.5 L906.0 735.7 L907.0 735.7 L908.0 736.8 L909.0 735.8 L910.0 737.7 L911.0 735.9 L912.0 737.9 L913.0 737.3 L914.0 735.8 L915.0 736.4 L916.0 736.7 L917.0 735.0 L918.0 736.5 L919.0 736.2 L920.0 738.8 L921.0 737.7 L922.0 736.9 L923.0 737.5 L924.0 736.3 L925.0 737.5 L926.0 735.4 L927.0 735.6 L928.0 735.5 L929.0 736.2 L930.0 735.0 L931.0 735.4 L932.0 734.2 L933.0 736.1 L934.0 735.1 L935.0 736.2 L936.2 737.0 L938.0 737.5 L939.0 736.7 L940.0 738.1 L941.0 737.2 L942.0 737.5 L943.0 737.0 L945.0 738.8 L947.0 738.6 L948.0 739.2 L949.0 738.2 L950.0 738.2 L951.0 738.6 L952.0 736.4 L953.0 736.6 L954.0 737.9 L955.0 735.7 L956.0 736.4 L957.0 737.6 L958.0 735.7 L959.0 736.0 L960.0 737.3 L961.0 736.4 L962.0 736.3 L963.0 737.5 L964.0 737.9 L965.0 737.2 L966.0 737.8 L967.0 736.6 L968.0 736.5 L969.0 735.8 L971.0 734.8 L973.0 735.1 L974.0 735.4 L976.0 735.0 L977.0 737.1 L978.0 737.2 L979.0 736.8 L980.0 735.0 L982.0 734.1 L983.0 733.1 L984.0 734.2 L985.0 733.8 L986.0 732.1 L987.0 734.1 L989.0 734.7 L990.0 735.4 L992.0 735.8 L993.0 734.8 L994.0 736.6 L995.0 735.9 L996.0 734.5 L997.0 736.6 L998.0 735.5 L999.0 734.9 L1000.0 735.0 L1001.0 735.8 L1002.5 736.1 L1003.2 736.0 L1004.0 735.7 L1005.0 733.0 L1007.0 732.9 L1008.0 732.2 L1009.0 733.7 L1010.0 732.4 L1011.0 733.2 L1012.0 732.4 L1013.0 735.2 L1014.0 734.8 L1015.0 735.9 L1016.0 736.4 L1018.0 734.9 L1019.0 735.0 L1020.0 736.5 L1021.0 736.2 L1024.0 736.2 L1026.0 736.0 L1027.0 736.3 L1028.0 735.7 L1029.0 736.1 L1030.0 736.1 L1031.0 735.6 L1032.0 735.8 L1033.0 735.6 L1034.0 736.0 L1035.0 735.2 L1036.0 735.3 L1037.0 735.7 L1038.0 735.1 L1039.0 735.7 L1040.0 735.1 L1041.0 735.0 L1042.0 735.5 L1043.0 735.5 L1044.0 735.0 L1045.0 734.9 L1046.0 735.5 L1047.0 734.9 L1048.0 735.4 L1049.0 735.0 L1051.0 734.9 L1052.0 735.4 L1053.0 735.0 L1057.0 734.9 L1058.0 734.6 L1060.0 734.9 L1061.0 734.8 L1062.0 735.1 L1064.0 735.2 L1065.0 734.8 L1067.0 735.7 L1068.0 735.1 L1069.0 735.6 L1070.0 735.2 L1073.0 735.7 L1075.0 735.4 L1076.0 735.9 L1077.0 736.0 L1078.0 736.5 L1079.0 736.1 L1081.0 736.9 L1082.0 736.3 L1083.0 737.2 L1084.0 736.8 L1085.0 737.4 L1086.0 737.4 L1088.0 738.1 L1090.0 738.4 L1092.0 739.3 L1094.2 741.5 L1097.2 745.9 L1099.5 750.9 L1101.5 756.9 L1103.2 764.6 L1104.5 772.7 L1105.5 776.4 L1106.5 778.6 L1108.2 779.9 L1109.0 781.3 L1110.2 798.1 L1112.0 833.8 L1112.8 853.9 L1113.8 863.1 L1114.2 864.9 L1115.0 866.3 L1115.5 866.7 L1116.0 866.3 L1116.5 864.9 L1117.8 859.6 L1119.5 850.4 L1120.8 847.1 L1121.2 846.6 L1121.5 846.7 L1122.0 848.1 L1123.0 853.0 L1125.5 873.2 L1126.0 875.0 L1126.5 874.5 L1127.2 872.0 L1128.2 867.3 L1129.0 862.0 L1129.8 853.9 L1131.2 823.9 L1133.2 792.8 L1134.5 783.1 L1135.2 780.7 L1136.2 778.8 L1136.8 778.4 L1138.5 777.9 L1140.0 777.8 L1141.2 778.0 L1142.8 778.5 L1146.2 780.4 L1150.2 782.3 L1152.8 783.0 L1154.5 782.8 L1157.8 781.4 L1159.2 781.0 L1164.5 780.7 L1165.8 781.0 L1167.5 782.6 L1170.0 786.2 L1173.2 794.4 L1175.5 799.2 L1176.5 800.9 L1177.2 801.7 L1178.8 802.6 L1180.0 803.1 L1181.2 803.3 L1182.0 803.1 L1183.0 802.4 L1185.5 799.3 L1186.8 796.3 L1190.8 784.5 L1191.5 782.8 L1192.0 782.2 L1193.8 781.3 L1197.0 780.4 L1198.5 779.8 L1199.8 778.9 L1203.0 776.1 L1204.2 775.3 L1209.0 773.7 L1210.8 773.4 L1212.2 773.5 L1216.5 774.7 L1221.8 775.1 L1222.8 775.4 L1223.2 776.2 L1224.0 778.2 L1226.0 785.9 L1227.5 795.3 L1228.5 805.8 L1229.5 823.5 L1230.5 851.5 L1231.0 858.5 L1231.5 855.1 L1232.5 842.9 L1233.8 837.2 L1234.0 836.8 L1234.5 836.5 L1237.2 836.1 L1238.2 835.7 L1239.0 834.2 L1240.8 829.4 L1241.8 828.3 L1243.2 827.3 L1244.2 827.1 L1247.0 827.3 L1249.8 827.8 L1251.5 828.4 L1252.5 830.0 L1254.8 835.3 L1257.5 839.0 L1258.2 839.4 L1259.0 839.4 L1261.0 837.1 L1261.5 836.8 L1262.0 836.7 L1263.0 837.8 L1265.5 842.8 L1266.2 843.5 L1267.0 843.2 L1268.0 841.4 L1270.0 836.5 L1272.0 830.1 L1272.8 828.5 L1274.0 827.7 L1277.0 826.9 L1278.5 826.1 L1280.2 824.8 L1281.2 823.4 L1282.8 819.4 L1285.0 812.1 L1287.0 804.7 L1288.0 801.8 L1288.8 800.6 L1290.0 799.2 L1290.8 798.8 L1291.5 798.9 L1293.0 799.9 L1295.0 801.9 L1297.0 806.0 L1297.8 807.0 L1299.2 807.6 L1300.8 807.9 L1301.8 807.8 L1304.5 807.1 L1305.0 807.1 L1305.5 807.4 L1306.5 809.2 L1308.2 814.2 L1309.5 819.7 L1311.5 831.5 L1314.0 850.8 L1317.5 875.3 L1320.0 889.6 L1320.5 891.6 L1321.0 892.7 L1321.2 892.8 L1321.8 892.5 L1322.5 891.4 L1325.0 885.2 L1328.5 878.4 L1330.0 874.3 L1332.2 865.6 L1335.2 847.5 L1335.8 845.6 L1336.0 845.3 L1340.5 845.9 L1341.8 845.9 L1342.8 845.0 L1345.2 841.5 L1346.0 841.1 L1346.5 841.2 L1347.8 842.8 L1349.5 846.6 L1351.0 852.3 L1351.5 853.7 L1352.5 854.3 L1354.8 855.0 L1355.8 855.5 L1356.2 856.5 L1357.8 861.3 L1358.5 863.0 L1360.0 863.9 L1361.8 864.6 L1363.2 864.8 L1365.0 864.6 L1366.8 864.0 L1367.0 863.6 L1367.5 860.6 L1368.8 849.5 L1370.0 842.1 L1370.8 839.0 L1371.0 838.4 L1372.0 837.5 L1373.0 837.1 L1373.8 837.0 L1374.8 838.0 L1375.8 839.7 L1377.0 842.4 L1377.8 844.8 L1380.8 858.2 L1383.8 874.8 L1384.8 878.1 L1387.5 882.9 L1388.5 885.8 L1390.5 898.5 L1392.2 906.7 L1393.2 909.6 L1393.8 910.0 L1394.2 909.3 L1395.5 904.6 L1396.0 901.9 L1397.2 891.1 L1397.8 889.5 L1399.2 887.8 L1400.5 887.3 L1401.8 887.5 L1404.5 888.7 L1405.5 888.8 L1406.2 885.0 L1407.5 873.9 L1409.5 862.0 L1409.8 861.2 L1410.2 860.8 L1411.8 860.3 L1413.0 860.4 L1413.8 860.9 L1414.5 861.7 L1415.5 863.2 L1415.8 863.9 L1417.8 878.5 L1419.0 886.8 L1419.8 890.5 L1420.0 891.0 L1420.2 891.2 L1424.8 891.2 L1425.0 891.4 L1425.2 891.9 L1426.2 897.3 L1429.2 918.4 L1430.5 921.4 L1431.2 922.5 L1431.8 922.7 L1432.2 922.5 L1433.0 921.1 L1434.5 916.5 L1436.5 903.7 L1438.5 893.4 L1447.0 855.4 L1450.0 845.0 L1453.2 836.6 L1454.8 834.0 L1456.5 832.9 L1457.8 832.5 L1459.0 832.3 L1460.0 832.4 L1461.2 833.0 L1462.8 834.2 L1463.2 834.9 L1464.8 842.8 L1465.2 844.4 L1466.5 845.4 L1467.5 845.5 L1468.0 844.6 L1468.5 843.0 L1472.2 827.5 L1473.2 825.5 L1475.8 822.0 L1476.8 820.1 L1480.2 812.3 L1482.2 806.9 L1482.8 806.0 L1483.2 805.6 L1484.8 805.2 L1485.8 805.2 L1486.5 807.0 L1487.5 811.3 L1488.2 815.7 L1488.8 820.3 L1491.8 854.5 L1492.0 856.2 L1492.5 857.7 L1493.2 859.2 L1494.0 859.8 L1494.2 859.7 L1494.8 858.1 L1496.2 848.4 L1498.0 839.6 L1500.8 827.0 L1502.8 819.0 L1504.8 812.7 L1506.2 808.9 L1507.2 807.3 L1509.0 805.6 L1510.2 804.8 L1511.5 804.6 L1513.5 804.9 L1516.0 805.8 L1519.2 807.3 L1524.0 810.5 L1526.5 812.5 L1528.0 813.1 L1528.8 812.5 L1530.8 808.1 L1531.5 807.2 L1535.5 805.9 L1537.5 805.6 L1539.0 805.7 L1540.8 806.5 L1542.8 808.5 L1545.0 814.6 L1546.0 816.4 L1546.8 816.5 L1548.2 816.1 L1549.8 815.6 L1551.8 814.4 L1552.5 814.2 L1552.8 814.8 L1553.2 819.2 L1554.2 832.6 L1555.5 857.9 L1556.8 890.4 L1557.8 903.1 L1558.0 904.7 L1558.2 905.1 L1558.8 901.0 L1559.5 891.2 L1560.8 879.9 L1561.2 878.2 L1562.5 876.6 L1563.0 875.2 L1564.2 856.4 L1565.5 843.9 L1566.0 841.4 L1566.8 839.8 L1567.8 838.3 L1568.5 837.7 L1569.5 837.2 L1573.8 835.9 L1576.8 833.9 L1577.5 833.8 L1578.0 834.0 L1579.0 835.2 L1580.5 838.3 L1581.0 840.4 L1582.2 848.5 L1582.8 850.0 L1584.2 849.7 L1585.5 848.9 L1587.5 843.3 L1588.2 842.2 L1589.0 842.8 L1590.5 845.8 L1591.2 846.8 L1594.2 847.5 L1595.5 847.6 L1596.2 847.4 L1599.8 845.4 L1602.5 844.2 L1604.0 843.8 L1605.2 843.9 L1607.5 845.5 L1608.5 845.8 L1610.5 845.5 L1612.2 844.6"/>
<path class="cv" stroke="#ff7f0e" d="M122.0 1021.2 L199.2 1020.6 L227.0 1020.6 L239.5 1020.8 L251.8 1021.5 L262.5 1023.5 L279.5 1025.4 L289.0 1026.7 L304.2 1029.6 L308.5 1030.8 L311.5 1031.9 L316.0 1034.4 L327.2 1041.8 L331.0 1043.3 L339.8 1046.2 L345.8 1048.5 L349.5 1050.3 L352.0 1051.9 L360.2 1058.4 L361.8 1059.2 L364.5 1059.3 L369.2 1058.9 L370.5 1058.4 L373.2 1056.7 L374.8 1056.3 L386.2 1056.4 L389.0 1057.2 L393.5 1059.3 L399.8 1063.9 L402.0 1065.3 L406.5 1067.0 L409.2 1067.5 L410.5 1067.4 L411.8 1066.9 L415.5 1064.7 L417.0 1063.3 L420.8 1059.1 L422.2 1057.7 L425.8 1055.3 L429.0 1053.4 L433.2 1051.7 L438.2 1050.1 L454.8 1045.8 L487.2 1038.5 L498.2 1036.6 L506.2 1035.4 L518.5 1034.3 L528.8 1033.8 L551.0 1033.5 L553.0 1034.1 L554.8 1035.2 L560.5 1039.9 L563.2 1042.4 L566.2 1046.2 L568.0 1049.8 L570.2 1056.7 L572.0 1063.6 L574.5 1077.2 L576.5 1091.6 L577.5 1096.1 L578.2 1098.4 L578.8 1098.9 L579.2 1098.3 L581.2 1092.1 L583.0 1088.0 L583.8 1087.0 L584.2 1087.0 L585.0 1088.0 L586.5 1092.6 L587.8 1104.0 L590.5 1139.0 L592.2 1166.7 L596.0 1235.8 L597.5 1258.1 L598.0 1263.6 L598.2 1264.7 L598.5 1263.6 L599.0 1254.0 L599.8 1232.7 L601.8 1161.0 L602.8 1141.5 L604.0 1125.6 L605.5 1111.5 L606.2 1106.7 L608.5 1094.9 L610.0 1088.6 L611.0 1085.5 L612.5 1082.6 L613.2 1081.7 L615.0 1081.2 L617.5 1081.0 L620.0 1081.7 L620.8 1083.5 L621.2 1086.3 L621.5 1090.1 L622.0 1109.4 L623.2 1189.8 L623.8 1199.0 L624.2 1204.3 L625.5 1210.5 L626.0 1211.9 L626.5 1212.4 L626.8 1211.5 L627.2 1205.3 L628.0 1189.0 L629.8 1106.1 L630.5 1084.5 L631.5 1066.3 L632.8 1058.0 L634.2 1052.1 L636.2 1047.2 L638.8 1042.6 L640.0 1040.9 L641.5 1039.3 L645.5 1036.4 L650.0 1034.1 L656.5 1032.0 L663.5 1030.5 L674.2 1029.2 L705.0 1026.9 L738.5 1023.9 L800.0 1020.6 L823.0 1020.5 L825.0 1020.3 L827.0 1020.6 L829.0 1020.6 L830.0 1020.9 L831.0 1020.4 L832.0 1020.5 L833.0 1021.3 L834.0 1021.2 L835.0 1021.5 L836.0 1021.0 L837.0 1021.1 L838.0 1021.7 L841.0 1021.9 L842.0 1021.8 L843.0 1021.9 L844.0 1022.4 L845.0 1022.2 L847.0 1023.0 L848.0 1022.7 L849.0 1022.9 L850.0 1023.4 L851.0 1022.9 L852.0 1023.3 L854.0 1023.6 L857.0 1023.4 L858.0 1023.9 L859.0 1023.3 L860.0 1023.1 L861.0 1023.3 L862.0 1023.0 L863.0 1023.5 L864.0 1022.8 L866.0 1022.8 L867.0 1022.5 L868.0 1022.5 L869.0 1022.0 L870.0 1022.3 L873.0 1021.5 L874.0 1021.8 L875.0 1021.3 L878.0 1021.3 L879.0 1020.8 L880.0 1021.1 L881.0 1020.6 L882.0 1020.7 L883.0 1020.4 L884.0 1020.5 L885.0 1019.8 L886.0 1019.7 L887.0 1019.9 L888.0 1019.5 L889.0 1019.7 L890.0 1019.2 L891.0 1019.0 L892.0 1019.2 L893.0 1018.8 L895.0 1019.0 L897.0 1018.0 L898.0 1018.3 L901.0 1017.5 L902.0 1017.9 L903.0 1017.3 L904.0 1017.6 L906.0 1017.4 L907.0 1017.9 L910.0 1017.4 L911.0 1017.8 L912.0 1017.9 L913.0 1017.5 L914.0 1017.9 L915.0 1017.6 L916.0 1018.0 L917.0 1018.1 L919.0 1017.7 L920.0 1018.2 L921.0 1017.9 L922.0 1018.2 L925.0 1017.0 L926.0 1016.8 L927.0 1016.3 L927.8 1016.3 L929.0 1016.3 L931.0 1016.7 L932.0 1016.2 L933.0 1016.6 L934.0 1017.3 L935.0 1017.8 L936.0 1017.6 L937.0 1018.6 L938.0 1018.6 L941.0 1019.8 L942.0 1019.7 L943.0 1020.1 L945.0 1020.0 L946.0 1020.3 L947.0 1019.9 L949.0 1020.3 L952.0 1019.6 L954.0 1020.0 L955.0 1019.6 L956.0 1019.6 L957.0 1020.2 L958.0 1020.1 L959.0 1019.8 L962.0 1020.3 L963.0 1020.2 L964.0 1019.6 L965.0 1020.2 L966.0 1019.7 L969.0 1019.8 L972.0 1019.5 L973.0 1019.2 L974.0 1018.4 L975.0 1018.9 L976.0 1018.0 L978.0 1018.2 L980.0 1017.4 L981.0 1017.7 L985.0 1016.9 L987.0 1017.3 L988.0 1016.9 L989.0 1017.2 L992.0 1017.3 L993.0 1017.5 L994.0 1017.1 L995.0 1017.7 L996.0 1017.4 L997.0 1017.4 L998.0 1017.8 L999.0 1017.5 L1001.0 1017.9 L1002.0 1017.7 L1003.0 1018.0 L1005.0 1018.0 L1008.0 1018.6 L1009.0 1018.2 L1010.0 1018.1 L1011.0 1018.7 L1012.0 1018.2 L1013.0 1018.5 L1014.0 1018.5 L1016.0 1019.2 L1017.0 1019.1 L1018.0 1018.5 L1019.0 1018.8 L1020.0 1018.7 L1022.0 1019.4 L1023.0 1019.0 L1024.0 1019.6 L1025.0 1019.6 L1026.0 1019.3 L1027.0 1019.5 L1064.2 1019.6 L1069.2 1020.0 L1074.8 1020.8 L1078.2 1021.4 L1080.8 1022.2 L1084.0 1023.8 L1088.2 1026.5 L1090.5 1028.3 L1092.2 1030.3 L1093.5 1032.2 L1094.5 1034.6 L1097.0 1043.7 L1099.0 1053.1 L1101.2 1067.7 L1104.0 1093.3 L1104.2 1094.3 L1104.8 1094.9 L1107.2 1095.8 L1108.2 1096.6 L1108.8 1098.4 L1109.2 1102.0 L1110.2 1113.1 L1111.5 1130.7 L1113.0 1162.7 L1114.0 1188.9 L1114.2 1190.2 L1114.8 1189.7 L1115.2 1188.4 L1119.2 1172.4 L1120.0 1170.3 L1120.5 1169.9 L1121.2 1170.4 L1122.5 1172.6 L1123.0 1174.0 L1123.2 1176.1 L1124.5 1195.5 L1126.2 1214.9 L1127.0 1220.0 L1127.2 1220.7 L1127.5 1220.8 L1128.2 1219.7 L1129.0 1217.0 L1129.8 1213.3 L1130.2 1208.4 L1131.8 1178.2 L1133.5 1134.4 L1135.0 1102.2 L1135.5 1094.6 L1136.8 1080.9 L1137.5 1075.4 L1138.2 1073.1 L1140.0 1070.0 L1142.0 1067.8 L1146.8 1064.5 L1148.8 1063.5 L1150.8 1062.8 L1158.0 1061.2 L1160.8 1060.9 L1163.2 1060.8 L1165.2 1061.4 L1169.5 1063.3 L1175.5 1065.6 L1177.8 1066.0 L1180.2 1065.8 L1183.0 1065.0 L1184.8 1064.2 L1185.8 1062.8 L1187.8 1058.8 L1188.8 1057.3 L1191.0 1055.2 L1193.0 1053.8 L1194.8 1053.2 L1199.8 1052.4 L1202.8 1052.3 L1205.0 1052.8 L1207.0 1053.6 L1209.5 1055.0 L1211.5 1056.6 L1213.0 1058.6 L1214.5 1061.0 L1216.8 1067.1 L1217.8 1068.1 L1220.2 1069.5 L1221.2 1070.5 L1222.0 1072.0 L1223.0 1074.7 L1225.5 1084.4 L1226.5 1089.9 L1227.2 1095.3 L1228.2 1106.6 L1229.2 1126.6 L1230.5 1165.5 L1231.0 1173.4 L1231.5 1169.9 L1232.8 1152.5 L1233.8 1145.1 L1234.2 1142.9 L1234.5 1142.6 L1234.8 1142.8 L1235.2 1144.2 L1236.5 1149.3 L1237.0 1150.1 L1237.5 1150.0 L1238.2 1149.4 L1240.5 1146.4 L1241.5 1145.5 L1246.8 1144.0 L1249.2 1143.6 L1251.2 1143.5 L1252.0 1144.4 L1252.8 1146.3 L1255.0 1153.5 L1256.8 1160.1 L1257.5 1161.7 L1258.0 1161.7 L1258.5 1161.4 L1260.5 1159.0 L1261.2 1158.5 L1262.5 1158.8 L1265.2 1160.6 L1266.0 1160.8 L1266.5 1160.7 L1267.5 1159.3 L1268.8 1156.1 L1270.8 1141.8 L1272.0 1136.4 L1272.8 1134.1 L1273.2 1133.2 L1274.0 1132.5 L1277.8 1130.7 L1279.2 1129.4 L1281.2 1126.4 L1283.0 1122.5 L1284.5 1117.4 L1286.0 1111.0 L1288.0 1097.5 L1288.2 1096.6 L1289.2 1094.6 L1290.0 1093.8 L1290.2 1093.8 L1290.5 1094.1 L1292.0 1099.3 L1292.5 1100.3 L1293.5 1101.3 L1296.2 1103.1 L1298.5 1105.8 L1299.5 1106.7 L1300.2 1106.7 L1300.8 1106.3 L1302.5 1103.3 L1303.2 1102.3 L1304.0 1102.1 L1305.0 1102.6 L1306.5 1104.0 L1307.2 1105.8 L1308.2 1110.6 L1309.2 1117.3 L1311.5 1145.0 L1316.5 1200.0 L1319.0 1221.6 L1319.8 1226.2 L1320.5 1228.5 L1321.2 1229.8 L1322.0 1230.3 L1322.8 1230.0 L1323.5 1229.1 L1326.2 1224.7 L1327.8 1221.8 L1329.5 1217.6 L1330.8 1213.8 L1332.2 1207.6 L1333.2 1201.2 L1334.8 1188.1 L1336.2 1171.7 L1336.5 1170.2 L1337.2 1168.1 L1338.0 1166.9 L1338.5 1166.6 L1338.8 1166.8 L1339.2 1168.2 L1340.8 1175.0 L1342.0 1178.4 L1342.8 1179.8 L1343.2 1180.1 L1343.8 1180.0 L1346.8 1178.4 L1347.5 1178.3 L1347.8 1178.6 L1348.2 1180.7 L1348.8 1184.1 L1350.0 1194.0 L1351.0 1204.0 L1351.5 1207.2 L1351.8 1207.5 L1352.5 1207.2 L1355.0 1204.2 L1356.0 1203.7 L1356.5 1206.7 L1357.5 1219.7 L1358.0 1222.7 L1359.5 1225.3 L1362.8 1228.4 L1365.2 1232.6 L1366.0 1233.2 L1366.5 1233.1 L1367.2 1229.7 L1368.5 1218.0 L1370.0 1190.0 L1371.2 1176.3 L1371.8 1173.3 L1372.0 1172.7 L1373.0 1172.0 L1374.0 1171.8 L1374.8 1173.4 L1376.2 1180.0 L1378.5 1194.0 L1379.5 1196.5 L1381.5 1199.7 L1382.5 1202.7 L1384.8 1225.4 L1385.0 1226.2 L1385.2 1226.3 L1388.8 1226.3 L1389.0 1226.5 L1389.5 1231.5 L1390.8 1253.9 L1392.0 1268.4 L1393.0 1277.1 L1393.2 1278.2 L1393.5 1278.7 L1393.8 1278.8 L1394.2 1278.3 L1395.0 1276.6 L1396.2 1272.0 L1398.2 1251.1 L1402.8 1219.7 L1403.5 1217.9 L1405.0 1216.4 L1405.5 1215.7 L1406.0 1214.1 L1408.5 1186.3 L1409.0 1181.9 L1409.5 1179.5 L1410.2 1178.7 L1411.2 1178.1 L1412.2 1177.9 L1413.0 1178.0 L1414.0 1178.4 L1415.2 1179.4 L1415.8 1180.8 L1416.5 1185.2 L1418.2 1199.3 L1419.5 1211.5 L1419.8 1212.8 L1420.2 1213.4 L1421.0 1213.9 L1423.0 1214.5 L1423.8 1215.1 L1424.2 1216.0 L1425.0 1218.6 L1427.0 1229.6 L1430.5 1260.3 L1431.0 1262.6 L1431.2 1262.8 L1431.5 1262.7 L1432.0 1261.9 L1432.8 1259.6 L1434.2 1253.3 L1436.8 1233.0 L1439.0 1218.7 L1441.0 1209.2 L1446.0 1190.2 L1446.5 1187.5 L1448.0 1175.8 L1449.0 1173.7 L1451.0 1171.4 L1452.0 1169.7 L1454.5 1159.1 L1456.5 1155.0 L1457.2 1154.1 L1458.8 1153.0 L1460.2 1152.2 L1461.8 1151.6 L1463.5 1151.4 L1468.0 1152.0 L1468.8 1150.3 L1470.5 1142.4 L1472.2 1136.3 L1472.8 1136.0 L1475.5 1136.0 L1475.8 1135.5 L1476.5 1131.7 L1478.2 1118.8 L1480.2 1108.1 L1482.8 1096.3 L1483.5 1093.7 L1484.0 1092.6 L1485.5 1090.7 L1486.2 1090.2 L1486.8 1090.1 L1487.0 1090.6 L1487.5 1093.2 L1488.8 1106.0 L1492.0 1192.4 L1493.2 1212.6 L1493.8 1217.8 L1494.0 1219.2 L1494.2 1219.6 L1494.5 1218.7 L1495.0 1214.2 L1496.2 1195.8 L1499.8 1128.6 L1501.0 1114.2 L1501.8 1109.5 L1502.5 1107.6 L1504.8 1103.6 L1506.5 1098.4 L1507.2 1096.7 L1509.2 1094.6 L1510.2 1094.0 L1511.0 1093.8 L1511.5 1093.9 L1512.2 1094.4 L1514.2 1096.9 L1517.2 1105.2 L1517.8 1106.0 L1519.5 1107.8 L1520.5 1108.4 L1521.2 1108.7 L1528.2 1108.6 L1528.8 1107.2 L1529.2 1104.6 L1531.5 1090.2 L1532.5 1087.1 L1533.8 1084.4 L1535.0 1082.8 L1537.0 1081.9 L1539.2 1081.5 L1539.8 1081.6 L1540.5 1082.2 L1542.2 1085.3 L1543.0 1087.8 L1544.8 1095.7 L1546.2 1100.1 L1547.0 1101.5 L1547.5 1101.7 L1547.8 1101.2 L1549.5 1093.5 L1549.8 1093.3 L1550.2 1093.4 L1551.2 1093.8 L1552.0 1094.5 L1552.2 1095.3 L1552.8 1103.6 L1554.2 1143.2 L1557.2 1248.7 L1558.2 1275.2 L1558.5 1277.9 L1559.0 1274.8 L1559.8 1262.9 L1561.0 1216.9 L1561.8 1199.9 L1563.2 1173.3 L1566.0 1133.3 L1566.5 1129.0 L1567.5 1124.9 L1568.5 1122.1 L1569.2 1121.1 L1574.2 1121.0 L1574.8 1119.0 L1575.5 1113.6 L1576.0 1111.6 L1577.5 1110.6 L1579.0 1110.4 L1579.8 1114.2 L1580.8 1123.3 L1582.2 1143.3 L1582.8 1145.7 L1583.5 1146.9 L1584.0 1147.2 L1584.2 1147.2 L1584.8 1146.4 L1585.2 1144.9 L1586.2 1140.0 L1587.5 1123.6 L1588.2 1116.0 L1589.2 1108.3 L1589.8 1106.0 L1590.2 1104.8 L1591.5 1102.5 L1592.8 1101.3 L1594.5 1100.9 L1598.5 1100.5 L1599.8 1100.1 L1600.5 1098.8 L1602.0 1094.7 L1603.5 1091.3 L1605.2 1088.0 L1606.5 1086.5 L1607.8 1085.4 L1610.0 1084.1 L1611.8 1083.7"/>
<line x1="1122.5" y1="298.5" x2="1122.1" y2="1348" stroke="#303030" stroke-width="1.9" stroke-dasharray="8.35 7.22"/>
<line x1="1183.4" y1="205" x2="1183.4" y2="1348" stroke="#606060" stroke-width="2.8" stroke-dasharray="8.35 7.22"/>
<line x1="1267.5" y1="302" x2="1266.75" y2="1354.6" stroke="#585858" stroke-width="2.8" stroke-dasharray="8.35 7.22"/>
<line x1="1321.6" y1="378" x2="1321.6" y2="1348" stroke="#303030" stroke-width="1.9" stroke-dasharray="8.35 7.22"/>
<line x1="1392.6" y1="384" x2="1392.6" y2="1348" stroke="#383838" stroke-width="2.0" stroke-dasharray="8.35 7.22"/>
<line x1="1434.5" y1="431" x2="1436.9" y2="1348" stroke="#484848" stroke-width="2.6" stroke-dasharray="8.35 7.22"/>
<line x1="1495.6" y1="335.3" x2="1495.2" y2="1349" stroke="#585858" stroke-width="2.6" stroke-dasharray="8.35 7.22"/>
<path class="ax" d="M121.2 21.5 V1352.5"/>
<path class="ax" d="M121.2 1350.3 H1616.2"/>
<path class="ax" style="stroke-width:3.8" d="M121.2 1350.3 V1372.7"/>
<path class="ax" style="stroke-width:3.8" d="M340.7 1350.3 V1372.7"/>
<path class="ax" style="stroke-width:3.8" d="M560.2 1350.3 V1372.7"/>
<path class="ax" style="stroke-width:3.8" d="M779.7 1350.3 V1372.7"/>
<path class="ax" style="stroke-width:3.8" d="M999.2 1350.3 V1372.7"/>
<path class="ax" style="stroke-width:3.8" d="M1218.7 1350.3 V1372.7"/>
<path class="ax" style="stroke-width:3.8" d="M1438.2 1350.3 V1372.7"/>
<path class="ax" style="stroke-width:3.8" d="M230.9 1350.3 V1362"/>
<path class="ax" style="stroke-width:3.8" d="M450.4 1350.3 V1362"/>
<path class="ax" style="stroke-width:3.8" d="M670.0 1350.3 V1362"/>
<path class="ax" style="stroke-width:3.8" d="M889.5 1350.3 V1362"/>
<path class="ax" style="stroke-width:3.8" d="M1109.0 1350.3 V1362"/>
<path class="ax" style="stroke-width:3.8" d="M1328.5 1350.3 V1362"/>
<path class="ax" style="stroke-width:3.8" d="M1548.0 1350.3 V1362"/>
<text class="tk" x="119.8" y="1427.2">4000</text>
<text class="tk" x="339.3" y="1427.2">3500</text>
<text class="tk" x="558.8" y="1427.2">3000</text>
<text class="tk" x="778.3" y="1427.2">2500</text>
<text class="tk" x="997.8" y="1427.2">2000</text>
<text class="tk" x="1217.3" y="1427.2">1500</text>
<text class="tk" x="1436.8" y="1427.2">1000</text>
<text x="616.4" y="1500" style="font-size:53px;font-weight:bold">Wavenumber (cm<tspan x="1053.5" y="1485.3" style="font-size:40px">−</tspan><tspan x="1075.5" y="1483.6" style="font-size:35px;">1</tspan><tspan x="1096" y="1500">)</tspan></text>
<text transform="translate(78.7 650.5) rotate(-90)" style="font-size:60.4px;text-anchor:middle">Relative Transmittance</text>
<text class="lb" x="1623.8" y="285.3">TPS75-PLA25-T5-A10</text>
<text class="lb" x="1623.8" y="343.1">F1</text>
<text class="lb" x="1625.6" y="580">TPS75-PLA25-T5-A10</text>
<text class="lb" x="1625.6" y="637.8">F2</text>
<text class="lb" x="1632.8" y="866">TPS50-PLA50-T5</text>
<text class="lb" x="1632.8" y="923.8">F1</text>
<text class="lb" x="1632.8" y="1105.2">TPS50-PLA50-T5</text>
<text class="lb" x="1632.8" y="1163.0">F2</text>
</svg></body></html>
